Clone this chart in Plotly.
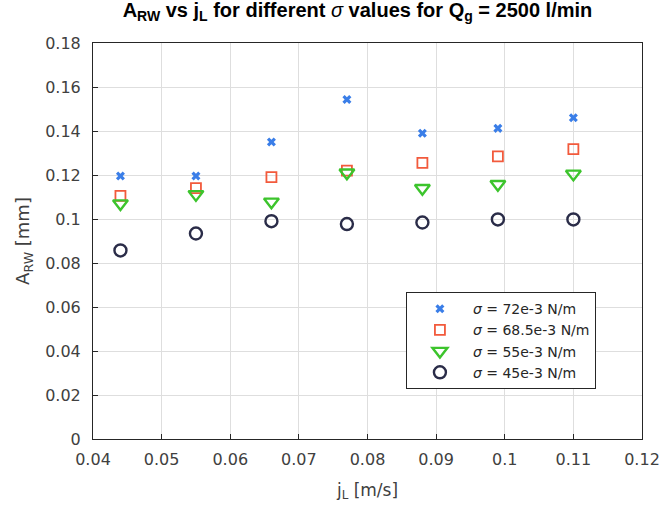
import plotly.graph_objects as go

jL = [0.044, 0.055, 0.066, 0.077, 0.088, 0.099, 0.110]
a_72 = [0.1195, 0.1195, 0.135, 0.1543, 0.1390, 0.1412, 0.1460]
a_685 = [0.1105, 0.1140, 0.1190, 0.1220, 0.1255, 0.1285, 0.1318]
a_55 = [0.1070, 0.1112, 0.1078, 0.1210, 0.1140, 0.1158, 0.1205]
a_45 = [0.0857, 0.0934, 0.0990, 0.0977, 0.0984, 0.0998, 0.0998]

names = ["<i>σ</i> = 72e-3 N/m", "<i>σ</i> = 68.5e-3 N/m",
         "<i>σ</i> = 55e-3 N/m", "<i>σ</i> = 45e-3 N/m"]
series = [a_72, a_685, a_55, a_45]
symbols = ["x", "square-open", "triangle-down-open", "circle-open"]
colors = ["#3a7ee8", "#f25a3c", "#3cc42c", "#2a2c48"]
sizes = [8, 10, 13, 12]
lw = [0, 1.8, 2.4, 2.4]

FONT = "DejaVu Sans"

fig = go.Figure()
for n, s, sym, c, sz, w in zip(names, series, symbols, colors, sizes, lw):
    mk = dict(symbol=sym, color=c, size=sz)
    if w:
        mk["line"] = dict(color=c, width=w)
    else:
        mk["line"] = dict(width=0)
    fig.add_trace(go.Scatter(x=jL, y=s, mode="markers", name=n, marker=mk))

axis_common = dict(
    showline=True, linecolor="#262626", linewidth=1, mirror=True,
    showgrid=True, gridcolor="#dedede", gridwidth=1,
    ticks="inside", ticklen=5, tickcolor="#262626",
    tickfont=dict(family=FONT, size=16, color="#404040"),
    zeroline=False, automargin=False,
)
fig.update_xaxes(range=[0.04, 0.12], dtick=0.01, tickformat="~g", ticklabelstandoff=6,
                 title=dict(text="j<sub>L</sub> [m/s]", font=dict(family=FONT, size=17, color="#404040"), standoff=15),
                 **axis_common)
fig.update_yaxes(range=[0, 0.18], dtick=0.02, tickformat="~g", ticklabelstandoff=8,
                 title=dict(text="A<sub>RW</sub> [mm]", font=dict(family=FONT, size=18, color="#404040"), standoff=10),
                 **axis_common)

fig.update_layout(
    width=662, height=507,
    margin=dict(l=93, r=20, t=43, b=68),
    paper_bgcolor="white", plot_bgcolor="white",
    title=dict(text="<b>A<sub>RW</sub> vs j<sub>L</sub> for different </b><i>σ</i><b> values for Q<sub>g</sub> = 2500 l/min</b>",
               x=0.54, xanchor="center", y=0.994, yanchor="top",
               font=dict(family="Liberation Sans, Arial", size=20, color="black")),
    legend=dict(x=0.570, y=0.371, xanchor="left", yanchor="top",
                bgcolor="white", bordercolor="#262626", borderwidth=1,
                font=dict(family=FONT, size=14, color="#262626"),
                itemwidth=56),
    showlegend=True,
)

fig.write_html("out.html")
